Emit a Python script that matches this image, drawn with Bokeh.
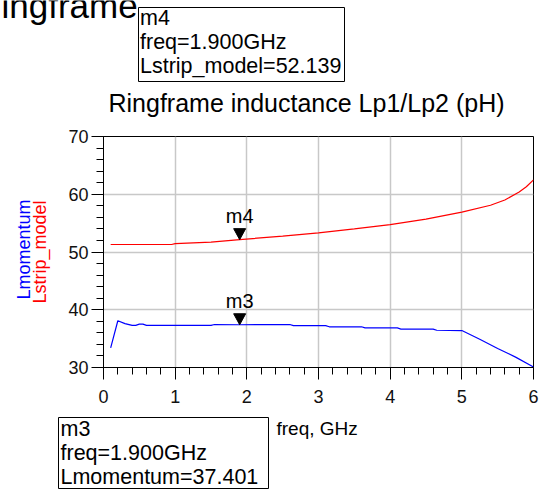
import math
from bokeh.plotting import figure
from bokeh.models import Range1d, FixedTicker
from bokeh.layouts import column, row
from bokeh.embed import file_html
from bokeh.resources import INLINE
from bokeh.core.properties import value

# ---------------- data ----------------
freq_strip = [0.1, 0.5, 0.95, 1.0, 1.5, 1.9, 2.5, 3.0, 3.5, 4.0, 4.5, 5.0, 5.4, 5.6, 5.8, 5.9, 6.0]
l_strip = [51.3, 51.3, 51.3, 51.45, 51.7, 52.14, 52.75, 53.3, 54.0, 54.75, 55.7, 56.9, 58.1, 59.0, 60.4, 61.3, 62.5]

freq_mom = [0.1, 0.2, 0.3, 0.4, 0.45, 0.5, 0.55, 0.6, 1.5, 1.55, 1.9, 2.6, 2.65, 3.1, 3.15,
            3.6, 3.65, 4.1, 4.15, 4.6, 4.65, 5.0, 5.25, 5.5, 5.75, 6.0]
l_mom = [33.4, 38.1, 37.6, 37.3, 37.3, 37.5, 37.5, 37.3, 37.3, 37.45, 37.40, 37.45, 37.25, 37.25, 37.05,
         37.05, 36.85, 36.85, 36.65, 36.65, 36.45, 36.4, 34.9, 33.3, 31.8, 30.1]

x_ticks = [0, 1, 2, 3, 4, 5, 6]
y_ticks = [30, 40, 50, 60, 70]

marker_freq = 1.9
m3_value = 37.401
m4_value = 52.139
marker_names = ["m3", "m4"]
m4_lines = ["m4", "freq=1.900GHz", "Lstrip_model=52.139"]
m3_lines = ["m3", "freq=1.900GHz", "Lmomentum=37.401"]

FONT = "Liberation Sans"
W, H = 544, 489
TOP_H = 120          # top strip (title, marker box m4)
MAIN_H = 288         # plot strip
BOT_H = H - TOP_H - MAIN_H
LEFT_W = 56          # strip with the rotated y labels
FL, FR, FT, FB = 103, 533, 136, 367   # frame in page pixels
BASE_K = 0.34        # baseline correction (fraction of font size)


def pix_fig(w, h):
    f = figure(width=w, height=h, x_range=Range1d(0, w), y_range=Range1d(h, 0),
               output_backend="svg", toolbar_location=None, min_border=0,
               x_axis_type=None, y_axis_type=None)
    f.outline_line_color = None
    f.background_fill_color = "white"
    f.border_fill_color = "white"
    return f


def txt(f, x, y, s, size, color="black", align="left", baseline="alphabetic", angle=0):
    if baseline == "alphabetic":
        y = y - BASE_K * size
    f.text(x=[x], y=[y], text=[s], text_font=value(FONT), text_font_size=value(f"{size}px"),
           text_color=color, text_align=align, text_baseline=baseline, angle=angle)


# ---------------- top strip ----------------
top = pix_fig(W, TOP_H)
txt(top, 1, 17, "ingframe", 35)
top.quad(left=[138], right=[344], top=[7], bottom=[81], fill_color="white", line_color="black", line_width=1)
for i, s in enumerate(m4_lines):
    txt(top, 139.5, 25 + 24 * i, s, 21.5)
txt(top, 306, 111, "Ringframe inductance Lp1/Lp2 (pH)", 25, align="center")

# ---------------- left strip (y labels) ----------------
left = pix_fig(LEFT_W, MAIN_H)
txt(left, 23, 261 - TOP_H, "Lmomentum", 18, color="#0000ff", align="center", baseline="middle", angle=math.pi / 2)
txt(left, 39, 264 - TOP_H, "Lstrip_model", 18, color="#ff0000", align="center", baseline="middle", angle=math.pi / 2)

# ---------------- main plot ----------------
p = figure(width=W - LEFT_W, height=MAIN_H, output_backend="svg", toolbar_location=None,
           x_range=Range1d(0, 6), y_range=Range1d(30, 70),
           min_border_left=FL - LEFT_W, min_border_right=W - FR,
           min_border_top=FT - TOP_H, min_border_bottom=TOP_H + MAIN_H - FB)
p.background_fill_color = "white"
p.border_fill_color = "white"
p.outline_line_color = "black"
p.outline_line_width = 1

x_minor = [i / 5 for i in range(0, 31)]
y_minor = [30 + 2 * i for i in range(0, 21)]
p.xaxis.ticker = FixedTicker(ticks=x_ticks, minor_ticks=x_minor)
p.yaxis.ticker = FixedTicker(ticks=y_ticks, minor_ticks=y_minor)

for ax in (p.xaxis[0], p.yaxis[0]):
    ax.axis_line_color = "black"
    ax.major_tick_line_color = "black"
    ax.minor_tick_line_color = "black"
    ax.major_tick_in = 0
    ax.minor_tick_in = 0
    ax.major_tick_out = 12
    ax.minor_tick_out = 7
    ax.major_label_text_font = FONT
    ax.major_label_text_font_size = "18px"
    ax.major_label_text_color = "#111111"
p.xaxis.major_label_standoff = 10
p.yaxis.major_label_standoff = 3

p.xgrid.grid_line_color = "#c8c8c8"
p.ygrid.grid_line_color = "#c8c8c8"
p.xgrid.grid_line_width = 1.5
p.ygrid.grid_line_width = 1.5

p.line(freq_strip, l_strip, line_color="#ff0000", line_width=1.2)
p.line(freq_mom, l_mom, line_color="#0000ff", line_width=1.2)

# marker triangles (12 px wide, 11 px tall, tip on the curve)
px_x = (FR - FL) / 6
px_y = (FB - FT) / 40
tri_w, tri_h = 12, 11
for mv in (m3_value, m4_value):
    p.patch([marker_freq - tri_w / 2 / px_x, marker_freq + tri_w / 2 / px_x, marker_freq],
            [mv + tri_h / px_y, mv + tri_h / px_y, mv], fill_color="black", line_color="black")
p.text([marker_freq, marker_freq], [m3_value, m4_value], text=marker_names,
       text_font=value(FONT), text_font_size=value("20px"), text_align="center",
       text_baseline="alphabetic", y_offset=-24, text_color="black")

# ---------------- bottom strip ----------------
bot = pix_fig(W, BOT_H)
y0 = TOP_H + MAIN_H
bot.quad(left=[58], right=[268], top=[417 - y0], bottom=[488 - y0], fill_color="white",
         line_color="black", line_width=1)
for i, s in enumerate(m3_lines):
    txt(bot, 60, 436 - y0 + 24 * i, s, 21.5)
txt(bot, 276, 434 - y0, "freq, GHz", 19)

layout = column(top, row(left, p, spacing=0), bot, spacing=0)
open("out.html", "w").write(file_html(layout, INLINE))
